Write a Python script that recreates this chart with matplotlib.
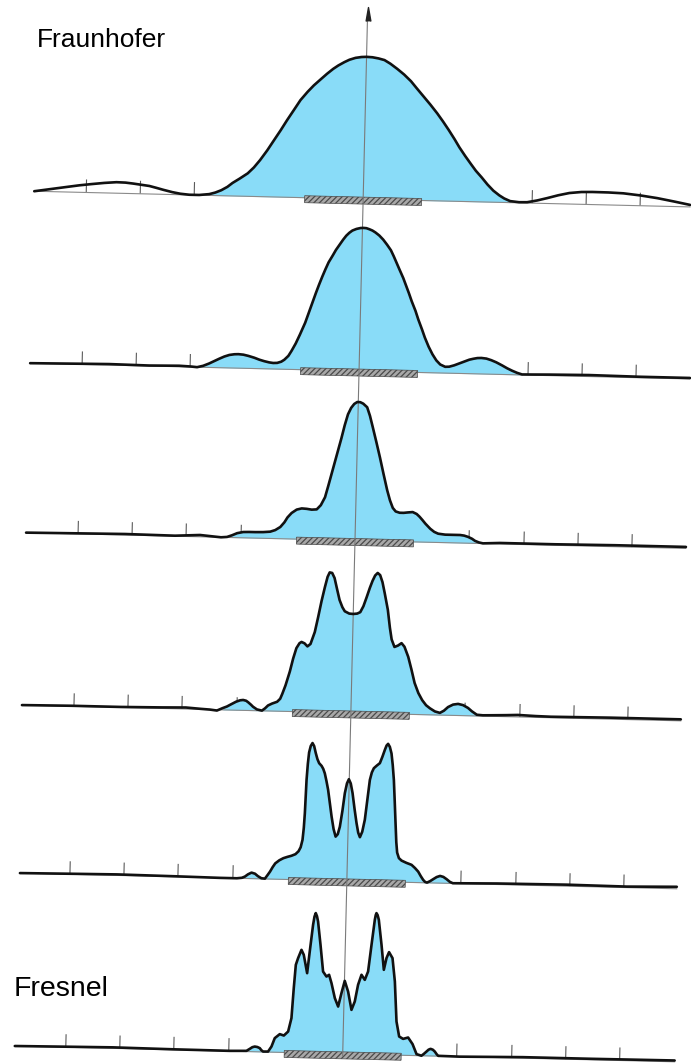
import numpy as np
import matplotlib
matplotlib.use('Agg')
import matplotlib.pyplot as plt
from matplotlib.patches import Rectangle
from matplotlib.transforms import Affine2D

# diffraction profiles, Fraunhofer (top) to Fresnel (bottom)
# (u, h): u = position along the screen from the optical axis, h = intensity (px)
fraunhofer = [
    (-329, 0), (-313, 2.5), (-297, 5), (-284, 7), (-272, 8.5), (-259, 10), (-247, 11),
    (-238, 10.8), (-230, 10), (-222, 9), (-214, 8), (-207, 6.3), (-200, 4.5), (-191, 2.4),
    (-183, 1), (-174, 0.2), (-164, 0.2), (-154, 1.3), (-148, 3), (-142, 5.5), (-136, 9),
    (-131, 13), (-124, 17.5), (-116, 23), (-110, 29), (-104, 36.5), (-97, 46.5), (-91, 56),
    (-84, 67), (-78, 77), (-71, 88), (-65, 97.5), (-58, 106), (-52, 112.5), (-45, 119),
    (-39, 124.5), (-33, 129.5), (-28, 133), (-22, 136.5), (-17, 139), (-11, 141), (-5, 142),
    (0, 142.3), (6, 142), (12, 141), (18, 139.5), (24, 136), (31, 131), (38, 125.5), (45, 119),
    (51, 112), (58, 104), (65, 96), (72, 87.5), (78, 79.5), (84, 71), (90, 62), (95, 54),
    (101, 45.5), (107, 37.5), (112, 31), (118, 24.5), (124, 17.5), (130, 11.5), (136, 7),
    (141, 4), (147, 1.5), (156, 0.6), (164, 0.8), (174, 2.8), (184, 5.4), (195, 8.5),
    (206, 11), (218, 12.3), (229, 12.6), (245, 12.5), (260, 12), (277, 10.3), (294, 8),
    (311, 5), (327, 2),
]
profile2 = [
    (-329, 0), (-290, 0.5), (-250, 1), (-210, 0.5), (-180, 1), (-168, 0.5), (-162, 0),
    (-156, 1.5), (-150, 4), (-145, 6.5), (-140, 9), (-135, 11.3), (-130, 13), (-125, 13.8),
    (-121, 14), (-116, 13.6), (-111, 12.5), (-105, 10.8), (-100, 9), (-95, 7.6), (-90, 6.5),
    (-86, 6), (-82, 6.2), (-78, 7.5), (-75, 9.5), (-71, 13.5), (-68, 18.5), (-64, 26),
    (-60, 35), (-55, 47), (-51, 59), (-48, 68), (-45, 77), (-42, 85.5), (-39, 93.5),
    (-36, 101), (-33, 108), (-29, 115), (-26, 120.5), (-22, 126.5), (-19, 131), (-16, 135),
    (-13, 138), (-10, 140.3), (-6, 142), (-2, 143), (1, 143.2), (4, 143), (7, 142),
    (10, 140.8), (13, 139), (17, 136), (21, 132), (25, 127), (29, 121.5), (32, 115.5),
    (35, 109), (38, 102.5), (42, 94), (45, 86.5), (48, 79), (51, 71), (55, 61.5), (58, 53),
    (62, 43), (65, 35), (69, 26), (73, 18.5), (77, 12.5), (81, 8.5), (86, 6.3), (90, 6.5),
    (95, 8), (100, 10), (105, 12), (110, 14), (114, 15), (118, 15.8), (122, 16), (127, 15.5),
    (132, 14), (137, 12), (143, 9), (148, 6.3), (153, 4), (158, 2), (163, 0.5), (175, 0.7),
    (190, 1), (230, 1.5), (280, 1), (331, 1),
]
profile3 = [
    (-329, 0), (-280, 0.5), (-230, 1), (-180, 0.5), (-155, 1.8), (-140, 0.5), (-134, 0),
    (-128, 0.5), (-123, 2.3), (-118, 4.5), (-112, 5.8), (-106, 6), (-100, 6), (-92, 6.2),
    (-85, 6.8), (-80, 8.5), (-75, 11.7), (-71, 16.5), (-68, 21.5), (-64, 26), (-59, 29.5),
    (-54, 30.8), (-49, 30.5), (-44, 29.8), (-39, 30.2), (-35, 34.5), (-31, 42.5), (-28, 54),
    (-24, 70), (-20, 86), (-16, 102), (-13, 115), (-10, 126), (-7, 132.5), (-4, 136.5),
    (-1, 138.5), (2, 138.4), (5, 137), (9, 133.5), (12, 125), (15, 114), (19, 99), (23, 83.5),
    (27, 67), (31, 51), (34, 41), (37, 33.5), (40, 30), (44, 28.8), (48, 28.8), (52, 29.3),
    (57, 29.8), (61, 28), (64, 25.3), (67, 22), (70, 18.5), (75, 13.5), (79, 10.5), (83, 8.8),
    (90, 8), (97, 8), (105, 8), (109, 7.5), (113, 6.3), (117, 4.5), (120, 2.5), (124, 1),
    (128, 0.2), (145, 1), (200, 1), (260, 1.5), (331, 1.5),
]
profile4 = [
    (-329, 0), (-280, 0.5), (-230, 0.5), (-190, 1), (-165, 1.5), (-150, 0.5), (-141, 0),
    (-134, -0.8), (-128, 1.9), (-124, 3.5), (-121, 5.2), (-115, 8.5), (-111, 10), (-108, 10.4),
    (-105, 9.7), (-103, 8.3), (-100, 5.8), (-98, 3.9), (-94, 1.3), (-89, 0.2), (-86, 2.5),
    (-83, 5.5), (-79, 7.5), (-74, 9.4), (-71, 12.5), (-69, 17.5), (-66, 26), (-62, 40),
    (-59, 53), (-56, 63.5), (-53, 68.5), (-51, 69.8), (-48, 68.5), (-45, 65.5), (-42, 68),
    (-38, 80), (-35, 95), (-32, 111), (-29, 125), (-26.5, 135.5), (-24.5, 140), (-22, 139.5),
    (-19.5, 134.5), (-16.5, 122.5), (-14, 112.7), (-11, 105.5), (-8.5, 101.5), (-4, 99.3),
    (0, 99), (4, 99.5), (7, 101), (10, 107), (13, 116), (16, 125.5), (18.5, 132.5), (21, 138),
    (23.5, 140.6), (26, 138.5), (28.5, 131.5), (31, 120.5), (34.5, 104), (37, 86), (39, 74.5),
    (42, 67), (45.5, 68.5), (49, 71), (52, 67.5), (56, 57.5), (59.5, 45), (63, 31.5),
    (67, 21.5), (71, 14.5), (75, 9.5), (79, 6.5), (84, 3.5), (89, 2.2), (93, 4.5), (97, 8.2),
    (102, 10.8), (107, 11.6), (112, 10.5), (117, 7.8), (121, 4.5), (126, 1.2), (132, 0.8),
    (139, 1), (155, 1.5), (167, 2), (185, 1.3), (200, 1), (260, 1.5), (330, 1.5),
]
profile5 = [
    (-327, 0), (-280, 0.5), (-230, 1), (-170, 0.5), (-127, 0), (-110, 0), (-105, 0.6),
    (-102, 1.9), (-99, 4.2), (-95.5, 6), (-92, 5), (-89, 2.6), (-85.5, 0.6), (-82, 0.3),
    (-79.5, 3.8), (-77, 7.5), (-74.5, 12), (-72, 15.8), (-68, 19), (-64, 21.2), (-60, 22.6),
    (-56, 23.8), (-52, 25.5), (-49, 28.5), (-47, 32.5), (-45.3, 40), (-44.3, 52),
    (-43.6, 66.7), (-42.7, 100), (-41.8, 116), (-40.8, 127.5), (-39.3, 134), (-37.6, 137),
    (-35.9, 134), (-34.1, 127), (-32.3, 121), (-30.5, 117), (-28, 114.4), (-26.3, 111.5),
    (-24.6, 107), (-22.8, 99.5), (-20.9, 90.6), (-18.8, 77), (-16.8, 64), (-14.5, 51.5),
    (-12.3, 44), (-10.2, 46.5), (-8.3, 54), (-6.1, 70), (-4.1, 87.7), (-2.2, 97.5),
    (-0.4, 101.7), (1.6, 97.5), (3.6, 88), (6, 72), (8.3, 58), (10.2, 48.5), (12, 44),
    (14.2, 49.5), (16.5, 61.5), (18.6, 82), (20.6, 101.5), (22.4, 109), (24.3, 113.3),
    (27.2, 116), (30.2, 118.5), (32.6, 125), (34.9, 132), (36.5, 136.3), (38, 138),
    (39.8, 135), (41.6, 128.5), (43.1, 117), (44.6, 102), (46, 80), (47.3, 59), (48.5, 40),
    (49.6, 29.5), (51.5, 24), (54.2, 21.6), (59, 19.5), (64.3, 17.6), (67.8, 14.5), (71.1, 11),
    (73.8, 6.5), (76.3, 2.8), (78.3, 0.8), (80.2, 0.2), (83.3, 1.8), (86.3, 3.8), (89.7, 6),
    (93.1, 7.2), (96.4, 6.3), (99.7, 4.1), (103, 1.5), (106, 0.2), (150, 1), (220, 1.5),
    (280, 1), (330, 2),
]
fresnel = [
    (-328, 0), (-280, 0.5), (-230, 1), (-170, 0.5), (-113, 0.3), (-96.3, 0.7), (-93, 2.8),
    (-90.5, 4.5), (-88.1, 5.2), (-85.5, 4.8), (-83, 3.7), (-81.5, 1.8), (-79.7, 0.4),
    (-74.7, 0.5), (-71.4, 5.6), (-68.3, 14.1), (-63.4, 18.2), (-59.3, 16.9), (-55.1, 21),
    (-52.1, 34.5), (-50.5, 64.5), (-49, 87.9), (-46.9, 94.6), (-43.7, 103), (-41.3, 98.1),
    (-37.5, 79.8), (-35.4, 101.5), (-32.7, 128.3), (-31.5, 136.5), (-30.3, 140.1),
    (-29, 137), (-27.8, 131.7), (-24.8, 108.5), (-21.6, 81.8), (-18.1, 76.9), (-15.5, 78.7),
    (-12.9, 70.4), (-9.2, 55.5), (-5.7, 47.2), (-2.7, 60.7), (0.3, 73), (3.9, 62.4),
    (7.7, 44.2), (10.8, 52.6), (13.7, 69.4), (16.9, 79.5), (20.3, 74.5), (23.4, 82.9),
    (26.2, 109.7), (28.9, 134.8), (29.7, 139.5), (30.4, 141.5), (31.6, 139.5), (32.9, 134.9),
    (36.2, 109.9), (39.1, 85), (41.5, 96.8), (43.9, 102.8), (47.5, 96.9), (50.4, 73.6),
    (53, 33.6), (56, 18.7), (60, 16.4), (65, 17.9), (69.6, 11.4), (73.8, 1.5), (78.7, 0),
    (81, 1.8), (83.7, 4.3), (85.7, 6.2), (87.7, 7.1), (90, 6.3), (92, 4.5), (94, 1.8),
    (95.5, 0.3), (117, 0), (180, 1), (250, 1), (332, 1.3),
]

profiles = [fraunhofer, profile2, profile3, profile4, profile5, fresnel]
fill_ranges = [(-155, 152), (-163, 164), (-129, 128), (-130, 127), (-108, 107), (-97, 96)]
tick_pos = [-277, -223, -169, -114, 114, 169, 223, 277]
aperture_half = 58.5

# layout (pixel frame of the figure, before the slight tilt of the scan)
W, H = 691, 1064
CX, CY = 355, 540
TILT = 1.37
baseline_y = [199, 371, 540.5, 713, 881, 1054]
tick_len = 13
blue = '#89dcf8'

plt.rcParams['hatch.linewidth'] = 0.9

fig = plt.figure(figsize=(W / 100, H / 100), dpi=100)
ax = fig.add_axes([0, 0, 1, 1])
ax.set_xlim(0, W)
ax.set_ylim(H, 0)
ax.axis('off')
ax.autoscale(False)

tr = Affine2D().rotate_deg_around(CX, CY, TILT) + ax.transData

for k, prof in enumerate(profiles):
    u, h = np.array(prof, float).T
    y0 = baseline_y[k]
    x = CX + u
    y = y0 - h

    ax.vlines(CX + np.array(tick_pos), y0 - tick_len, y0, colors='#5a5a5a', lw=0.8,
              transform=tr, zorder=1.5)
    lo, hi = fill_ranges[k]
    m = (u >= lo) & (u <= hi)
    ax.fill_between(x, y, y0, where=m, color=blue, lw=0, transform=tr, zorder=2)
    ax.plot([x[0], x[-1]], [y0, y0], color='#8a8a8a', lw=0.8, transform=tr, zorder=2.5)
    ax.add_patch(Rectangle((CX - aperture_half, y0 - 2), 2 * aperture_half, 7,
                           facecolor='#a8a8a8', edgecolor='#4a4a4a', hatch='//////',
                           lw=0.5, transform=tr, zorder=3))
    ax.plot(x, y, color='#111111', lw=1.9, solid_joinstyle='round', solid_capstyle='round',
            transform=tr, zorder=4)

# optical axis with arrow
ax.plot([CX, CX], [14, 1056], color='#7a7a7a', lw=0.8, transform=tr, zorder=3.5)
ax.plot([CX], [14], marker=[(-0.35, -1), (0, 1), (0.35, -1)], ms=10, color='#222222',
        transform=tr, zorder=5)

font = ['Liberation Sans', 'DejaVu Sans']
ax.text(37, 40, 'Fraunhofer', fontsize=19, family=font, ha='left', va='center')
ax.text(14, 989, 'Fresnel', fontsize=20.5, family=font, ha='left', va='center')

fig.savefig('out.png', dpi=100)
